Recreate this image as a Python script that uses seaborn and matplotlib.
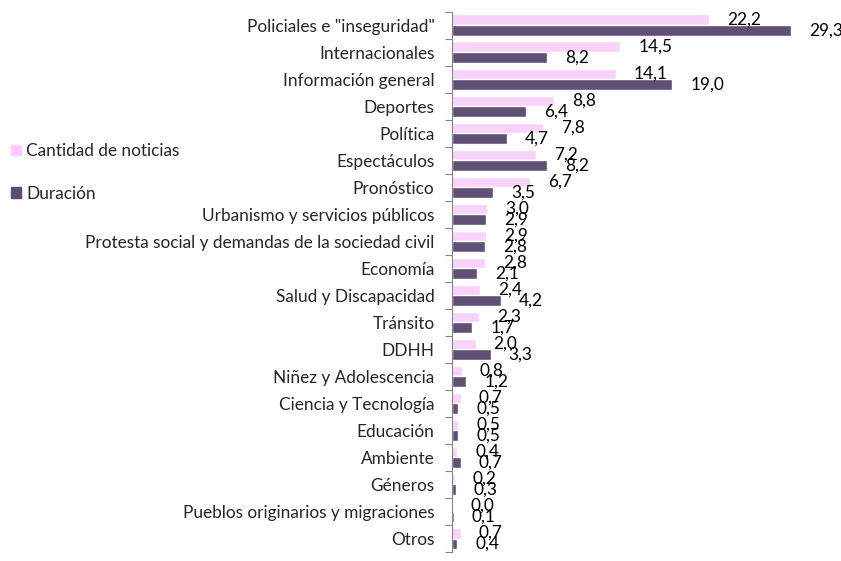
import pandas as pd
import matplotlib.pyplot as plt
import seaborn as sns

# datos de la figura
categorias = ['Policiales e "inseguridad"', 'Internacionales', 'Información general',
              'Deportes', 'Política', 'Espectáculos', 'Pronóstico',
              'Urbanismo y servicios públicos',
              'Protesta social y demandas de la sociedad civil', 'Economía',
              'Salud y Discapacidad', 'Tránsito', 'DDHH', 'Niñez y Adolescencia',
              'Ciencia y Tecnología', 'Educación', 'Ambiente', 'Géneros',
              'Pueblos originarios y migraciones', 'Otros']
cantidad = [22.2, 14.5, 14.1, 8.8, 7.8, 7.2, 6.7, 3.0, 2.9, 2.8,
            2.4, 2.3, 2.0, 0.8, 0.7, 0.5, 0.4, 0.2, 0.0, 0.7]
duracion = [29.3, 8.2, 19.0, 6.4, 4.7, 8.2, 3.5, 2.9, 2.8, 2.1,
            4.2, 1.7, 3.3, 1.2, 0.5, 0.5, 0.7, 0.3, 0.1, 0.4]
series = ['Cantidad de noticias', 'Duración']
colores = ['#FFCCFF', '#604A7B']

df = pd.DataFrame({
    'Tema': categorias * 2,
    'Serie': [series[0]] * len(categorias) + [series[1]] * len(categorias),
    'Valor': cantidad + duracion,
})

sns.set_theme(style='white')
plt.rcParams['font.family'] = ['Lato', 'DejaVu Sans']
fs = 12.4

fig = plt.figure(figsize=(8.41, 5.61), dpi=100)
ax = fig.add_axes([0.538, 0.016, 0.462, 0.963])

sns.barplot(data=df, y='Tema', x='Valor', hue='Serie', orient='h',
            palette=colores, width=0.8, ax=ax, legend=False)

for cont in ax.containers:
    etiquetas = [f'{v:.1f}'.replace('.', ',') for v in cont.datavalues]
    ax.bar_label(cont, labels=etiquetas, padding=13, fontsize=fs, color='black')

ax.set_xlim(0, 33.6)
ax.set_ylim(len(categorias) - 0.5, -0.5)
ax.set_xlabel('')
ax.set_ylabel('')
ax.set_xticks([])

# ticks en los limites de cada categoria
ax.set_yticks(range(len(categorias)))
ax.set_yticklabels(categorias, fontsize=fs)
ax.tick_params(axis='y', which='major', length=0, pad=13)
ax.set_yticks([i - 0.5 for i in range(len(categorias) + 1)], minor=True)
ax.tick_params(axis='y', which='minor', left=True, length=5, color='#868686', width=0.8)

for lado in ['top', 'right', 'bottom']:
    ax.spines[lado].set_visible(False)
ax.spines['left'].set_color('#868686')
ax.spines['left'].set_linewidth(0.8)

handles = [plt.Rectangle((0, 0), 1, 1, color=c) for c in colores]
fig.legend(handles, series, loc='upper left', bbox_to_anchor=(0.013, 0.745),
           frameon=False, fontsize=fs, handlelength=0.6, handleheight=0.6,
           handletextpad=0.3, labelspacing=1.55, borderaxespad=0, borderpad=0)

fig.savefig('out.png', dpi=100)
